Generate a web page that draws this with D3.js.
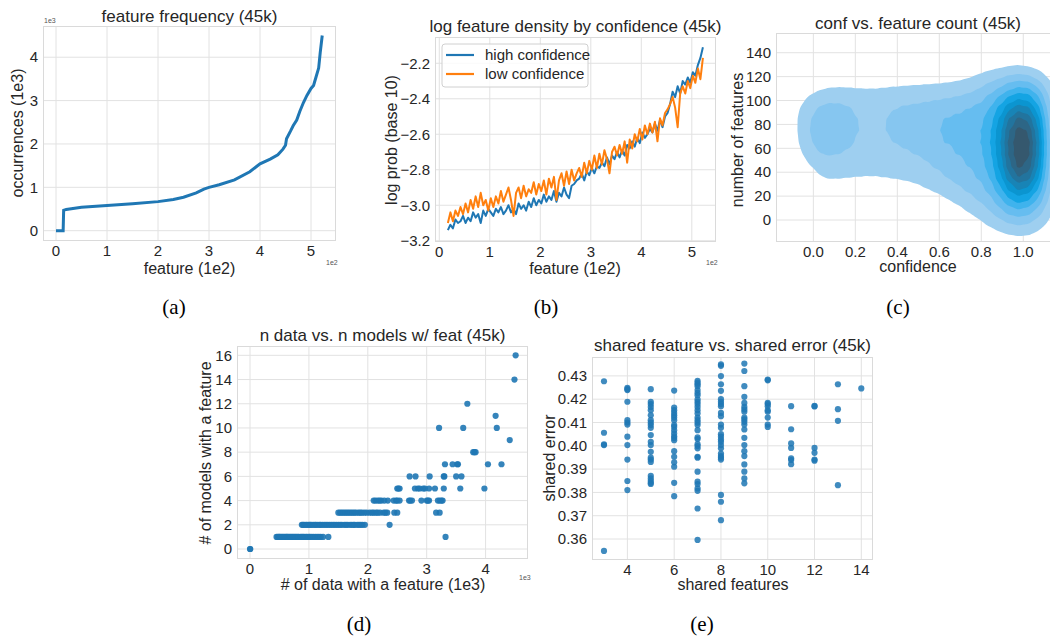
<!DOCTYPE html>
<html>
<head>
<meta charset="utf-8">
<script src="https://cdn.jsdelivr.net/npm/d3@7"></script>
<style>
  body { margin: 0; background: #fff; }
  svg text { font-family: "Liberation Sans", Arial, sans-serif; fill: #262626; }
  .cap { font-family: "Liberation Serif", "Times New Roman", serif; fill: #000; }
</style>
</head>
<body>
<div id="chart"></div>
<script>
// ---- (a) feature frequency, sorted ----
var featA = [0, 0.14, 0.15, 0.2, 0.5, 1.0, 1.5, 2.0, 2.3, 2.5, 2.75, 2.9, 3.0, 3.2, 3.5, 3.8, 4.0, 4.2,
             4.35, 4.45, 4.5, 4.52, 4.6, 4.65, 4.72, 4.78, 4.85, 4.92, 5.0, 5.05, 5.1, 5.15, 5.18, 5.22];
var occA = [0, 0, 0.47, 0.49, 0.54, 0.58, 0.62, 0.67, 0.72, 0.77, 0.87, 0.96, 1.0, 1.06, 1.17, 1.36, 1.54, 1.65,
            1.75, 1.88, 1.97, 2.12, 2.3, 2.42, 2.55, 2.75, 2.95, 3.12, 3.28, 3.35, 3.55, 3.75, 4.1, 4.5];

// ---- (b) log feature density, one value every 5 features (index 17..522) ----
var logProbHigh = [
  -3.14,-3.11,-3.13,-3.08,-3.10,-3.09,-3.06,-3.10,-3.07,-3.09,
  -3.04,-3.07,-3.05,-3.10,-3.03,-3.06,-3.02,-3.04,-3.06,-3.02,
  -3.04,-3.01,-3.05,-3.03,-3.00,-3.04,-3.02,-3.05,-2.99,-3.02,
  -3.00,-3.03,-2.98,-3.01,-2.96,-3.00,-2.97,-2.99,-2.94,-2.98,
  -2.95,-2.97,-2.92,-2.98,-2.93,-2.95,-2.90,-2.94,-2.96,-2.89,
  -2.88,-2.86,-2.85,-2.82,-2.86,-2.81,-2.83,-2.79,-2.82,-2.78,
  -2.79,-2.76,-2.78,-2.73,-2.77,-2.72,-2.74,-2.70,-2.73,-2.69,
  -2.72,-2.66,-2.68,-2.64,-2.67,-2.62,-2.65,-2.59,-2.62,-2.60,
  -2.57,-2.59,-2.54,-2.58,-2.52,-2.56,-2.50,-2.48,-2.43,-2.36,
  -2.39,-2.33,-2.37,-2.30,-2.32,-2.28,-2.31,-2.25,-2.27,-2.21,
  -2.17,-2.11];
var logProbLow = [
  -3.10,-3.04,-3.09,-3.03,-3.06,-3.01,-3.05,-2.99,-3.04,-2.97,
  -3.02,-2.95,-3.01,-2.93,-3.00,-2.97,-3.03,-2.96,-3.01,-2.95,
  -2.99,-2.92,-2.98,-2.94,-2.90,-2.97,-3.06,-2.93,-2.90,-2.96,
  -2.89,-2.95,-2.91,-2.93,-2.87,-2.94,-2.88,-2.92,-2.86,-2.94,
  -2.85,-2.90,-2.84,-2.97,-2.86,-2.82,-2.89,-2.81,-2.88,-2.80,
  -2.86,-2.82,-2.79,-2.84,-2.76,-2.82,-2.75,-2.80,-2.72,-2.79,
  -2.71,-2.77,-2.69,-2.74,-2.82,-2.70,-2.67,-2.72,-2.66,-2.71,
  -2.64,-2.76,-2.63,-2.68,-2.60,-2.64,-2.57,-2.63,-2.55,-2.60,
  -2.54,-2.59,-2.53,-2.64,-2.51,-2.55,-2.48,-2.46,-2.43,-2.39,
  -2.45,-2.56,-2.37,-2.33,-2.37,-2.30,-2.34,-2.27,-2.31,-2.23,
  -2.29,-2.17];
var featB = d3.range(17, 523, 5).map(function(d) { return d / 100; });

// ---- (c) confidence vs feature count, binned weights (one column per conf bin) ----
var kdeConf = [-0.05, 0, 0.05, 0.1, 0.15, 0.2, 0.25, 0.3, 0.35, 0.4, 0.45, 0.5,
               0.55, 0.6, 0.65, 0.7, 0.75, 0.8, 0.85, 0.9, 0.95, 1.0, 1.05, 1.1];
var kdeCount = [130, 120, 110, 100, 90, 80, 70, 60, 50, 40, 30, 20, 10, 0, -10];
var kdeWeight = [
  [0,0,0,0.4,0.8,0.9,0.8,0.6,0.25,0,0,0,0,0,0],
  [0,0,0.2,0.9,1.6,1.9,1.9,1.5,0.8,0.3,0,0,0,0,0],
  [0,0,0.4,1.4,2.1,2.3,2.3,2.0,1.3,0.8,0.3,0,0,0,0],
  [0,0,0.5,1.5,2.1,2.3,2.2,1.9,1.2,0.8,0.25,0,0,0,0],
  [0,0,0.5,1.3,1.9,2.1,2.0,1.7,1.0,0.75,0.2,0,0,0,0],
  [0,0,0.5,1.1,1.5,1.7,1.6,1.3,0.95,0.7,0.2,0,0,0,0],
  [0,0,0.5,1.0,1.1,1.2,1.1,1.0,0.9,0.65,0.2,0,0,0,0],
  [0,0,0.5,1.0,1.1,1.3,1.2,1.0,0.9,0.65,0.2,0,0,0,0],
  [0,0,0.55,1.1,1.4,1.6,1.4,1.1,0.9,0.7,0.25,0,0,0,0],
  [0,0,0.6,1.2,1.7,2.0,1.8,1.4,1.0,0.75,0.3,0,0,0,0],
  [0,0,0.65,1.3,1.9,2.2,2.0,1.6,1.1,0.8,0.4,0.05,0,0,0],
  [0,0,0.7,1.4,2.0,2.2,2.1,1.8,1.3,0.9,0.5,0.1,0,0,0],
  [0,0,0.75,1.5,2.0,2.3,2.2,2.0,1.6,1.1,0.65,0.25,0,0,0],
  [0,0,0.8,1.6,2.1,2.5,2.4,2.2,1.9,1.5,0.9,0.35,0.05,0,0],
  [0,0.1,0.9,1.7,2.4,2.9,2.8,2.4,2.1,1.8,1.4,0.6,0.15,0,0],
  [0,0.2,1.0,1.8,2.6,3.0,3.0,2.8,2.4,2.0,1.7,1.0,0.35,0,0],
  [0,0.35,1.2,2.0,2.8,3.1,3.1,3.0,2.7,2.4,1.9,1.5,0.7,0.15,0],
  [0,0.6,1.6,2.4,3.0,3.3,3.4,3.3,3.1,2.8,2.3,1.8,1.2,0.45,0],
  [0,1.0,2.2,3.0,3.8,4.3,4.5,4.5,4.2,3.8,3.4,2.4,1.7,0.9,0.2],
  [0,1.5,2.7,4.5,5.8,6.5,6.8,6.8,6.5,6.0,5.0,4.0,2.8,1.6,0.4],
  [0.2,1.8,3.5,5.5,7.5,9.0,9.8,10.0,9.6,8.8,7.0,5.3,3.5,2.0,0.6],
  [0.2,1.8,4.0,6.0,8.2,10.0,11.0,11.2,10.8,9.8,7.8,5.8,3.8,2.2,0.7],
  [0,1.5,3.4,5.0,6.8,8.0,8.8,9.0,8.6,7.8,6.2,4.5,3.0,1.6,0.5],
  [0,0.3,1.8,2.8,3.6,4.2,4.5,4.6,4.4,4.0,3.4,2.6,1.6,0.7,0.1]
];
var kdeColors = ["#9ecff0", "#86c6f0", "#66bdf0", "#3fb3ed", "#14a4e3",
                 "#0b95d0", "#1884b6", "#22749e", "#2d6686", "#35586e"];

// ---- (d) n data vs n models ----
var modelsN = [0, 1, 2, 3, 4, 5, 6, 7, 8, 9, 10, 11, 12, 14, 16];
var dataK = [
  [0.0, 0.004],
  [0.45,0.47,0.49,0.5,0.52,0.54,0.56,0.58,0.6,0.62,0.63,0.65,0.67,0.69,0.71,0.73,0.75,0.77,0.79,0.81,
   0.83,0.86,0.88,0.9,0.92,0.95,0.97,1.0,1.02,1.05,1.08,1.11,1.14,1.17,1.2,1.24,1.33,3.32],
  [0.88,0.9,0.92,0.95,0.97,1.0,1.02,1.04,1.07,1.1,1.12,1.15,1.18,1.2,1.23,1.26,1.29,1.32,1.35,1.38,
   1.41,1.44,1.47,1.5,1.53,1.56,1.6,1.63,1.66,1.7,1.73,1.76,1.78,1.82,1.85,1.88,1.91,1.95,2.37],
  [1.5,1.53,1.56,1.59,1.62,1.65,1.68,1.71,1.74,1.77,1.8,1.84,1.87,1.9,1.94,1.98,2.03,2.07,2.1,2.14,
   2.17,2.21,2.27,2.3,2.33,2.45,2.5,3.16,3.22],
  [2.1,2.13,2.17,2.2,2.23,2.28,2.34,2.44,2.48,2.5,2.54,2.7,2.72,2.75,2.91,3.0,3.02,3.04,3.19,3.22,3.25,3.27],
  [2.5,2.52,2.54,2.8,2.85,2.88,2.94,2.97,3.04,3.14,3.29,3.57,3.98],
  [2.71,2.81,3.05,3.29,3.3,3.5,3.59],
  [3.31,3.44,3.52,3.53,4.04,4.27],
  [3.79,3.81,3.83],
  [4.41],
  [3.21,3.62,4.19],
  [4.17],
  [3.69],
  [4.49],
  [4.51]
];

// ---- (e) shared features vs shared error ----
var sharedFeat = [3, 4, 5, 6, 7, 8, 9, 10, 11, 12, 13, 14];
var sharedErr = [
  [0.4277,0.4056,0.4006,0.4003,0.3549],
  [0.4249,0.4243,0.4239,0.4189,0.4110,0.4100,0.4091,0.4039,0.4003,0.3941,0.3849,0.3810],
  [0.4243,0.4189,0.4179,0.4167,0.4153,0.4131,0.4110,0.4099,0.4089,0.4077,0.4046,0.4017,0.4003,0.3974,
   0.3949,0.3941,0.3931,0.3871,0.3860,0.3850,0.3841,0.3836],
  [0.4237,0.4164,0.4153,0.4141,0.4131,0.4121,0.4110,0.4089,0.4081,0.4067,0.4053,0.4041,0.4033,0.4024,
   0.3977,0.3953,0.3929,0.3910,0.3841,0.3784],
  [0.4279,0.4271,0.4264,0.4256,0.4239,0.4227,0.4217,0.4199,0.4189,0.4179,0.4167,0.4153,0.4139,0.4121,
   0.4110,0.4099,0.4089,0.4067,0.4036,0.4029,0.4007,0.3999,0.3989,0.3953,0.3949,0.3889,0.3846,0.3836,
   0.3817,0.3807,0.3731,0.3596],
  [0.4349,0.4343,0.4299,0.4264,0.4236,0.4200,0.4189,0.4179,0.4170,0.4141,0.4127,0.4091,0.4077,0.4050,
   0.4039,0.4027,0.4017,0.4003,0.3989,0.3967,0.3956,0.3949,0.3941,0.3789,0.3760,0.3681],
  [0.4353,0.4321,0.4256,0.4210,0.4184,0.4167,0.4156,0.4146,0.4121,0.4113,0.4103,0.4091,0.4070,0.4034,
   0.4003,0.3977,0.3956,0.3920,0.3889,0.3860,0.3839],
  [0.4284,0.4281,0.4184,0.4179,0.4170,0.4153,0.4146,0.4121,0.4091,0.4081],
  [0.4170,0.4071,0.4010,0.3991,0.3946,0.3939,0.3921],
  [0.4171,0.4169,0.3991,0.3970,0.3941,0.3936],
  [0.4264,0.4157,0.4107,0.3831],
  [0.4246]
];

var blue = "#1f77b4", orange = "#ff7f0e";
var gridColor = "#e2e2e2";

var svg = d3.select("#chart").append("svg")
    .attr("width", 1050)
    .attr("height", 641);

// draws grid and tick labels, hands back the scales
function makeAxes(box, xDom, yDom, xTicks, yTicks, xFmt, yFmt, tickSize) {
    var x = d3.scaleLinear().domain(xDom).range([box.l, box.r]);
    var y = d3.scaleLinear().domain(yDom).range([box.b, box.t]);
    var g = svg.append("g");

    g.selectAll(".gx").data(xTicks).enter().append("line")
        .attr("x1", function(d) { return x(d); }).attr("x2", function(d) { return x(d); })
        .attr("y1", box.t).attr("y2", box.b)
        .attr("stroke", gridColor).attr("stroke-width", 1);
    g.selectAll(".gy").data(yTicks).enter().append("line")
        .attr("x1", box.l).attr("x2", box.r)
        .attr("y1", function(d) { return y(d); }).attr("y2", function(d) { return y(d); })
        .attr("stroke", gridColor).attr("stroke-width", 1);

    g.selectAll(".tx").data(xTicks).enter().append("text")
        .attr("x", function(d) { return x(d); })
        .attr("y", box.b + 15)
        .attr("text-anchor", "middle")
        .style("font-size", tickSize + "px")
        .text(xFmt);
    g.selectAll(".ty").data(yTicks).enter().append("text")
        .attr("x", box.l - 5)
        .attr("y", function(d) { return y(d); })
        .attr("dy", "0.35em")
        .attr("text-anchor", "end")
        .style("font-size", tickSize + "px")
        .text(yFmt);

    return { x: x, y: y, g: g, box: box };
}

function frame(ax) {
    var b = ax.box;
    svg.append("rect")
        .attr("x", b.l + 0.5).attr("y", b.t + 0.5)
        .attr("width", b.r - b.l - 1).attr("height", b.b - b.t - 1)
        .attr("fill", "none").attr("stroke", "#dadada").attr("stroke-width", 1);
}

function labels(title, tx, ty, xl, xlx, xly, yl, ylx, yly) {
    svg.append("text").attr("x", tx).attr("y", ty).attr("text-anchor", "middle")
        .style("font-size", "17px").text(title);
    svg.append("text").attr("x", xlx).attr("y", xly).attr("text-anchor", "middle")
        .style("font-size", "16px").text(xl);
    svg.append("text")
        .attr("transform", "translate(" + ylx + "," + yly + ") rotate(-90)")
        .attr("dy", "0.35em")
        .attr("text-anchor", "middle")
        .style("font-size", "16px").text(yl);
}

function small(txt, x, y) {
    svg.append("text").attr("x", x).attr("y", y)
        .style("font-size", "7px").style("fill", "#555").text(txt);
}

var intFmt = d3.format("d");
var minusFmt = function(d) { return d3.format(".1f")(d).replace("-", "\u2212"); };

// ================= (a) =================
var axA = makeAxes({ l: 43, r: 336, t: 26, b: 241 }, [-0.255, 5.49], [-0.238, 4.72],
                   [0, 1, 2, 3, 4, 5], [0, 1, 2, 3, 4], intFmt, intFmt, 15);
var lineA = d3.line()
    .x(function(d, i) { return axA.x(featA[i]); })
    .y(function(d) { return axA.y(d); });
svg.append("path").datum(occA)
    .attr("d", lineA)
    .attr("fill", "none").attr("stroke", blue).attr("stroke-width", 3);
frame(axA);
labels("feature frequency (45k)", 189.5, 22, "feature (1e2)", 189.5, 274, "occurrences (1e3)", 17, 133);
small("1e3", 44, 23);
small("1e2", 326, 265);

// ================= (b) =================
var axB = makeAxes({ l: 435, r: 716, t: 37, b: 242 }, [-0.085, 5.479], [-3.207, -2.052],
                   [0, 1, 2, 3, 4, 5], [-3.2, -3.0, -2.8, -2.6, -2.4, -2.2], intFmt, minusFmt, 15);
var lineB = d3.line()
    .x(function(d, i) { return axB.x(featB[i]); })
    .y(function(d) { return axB.y(d); });
svg.append("path").datum(logProbHigh)
    .attr("d", lineB)
    .attr("fill", "none").attr("stroke", blue).attr("stroke-width", 2)
    .attr("stroke-linejoin", "round");
svg.append("path").datum(logProbLow)
    .attr("d", lineB)
    .attr("fill", "none").attr("stroke", orange).attr("stroke-width", 2)
    .attr("stroke-linejoin", "round");
frame(axB);
labels("log feature density by confidence (45k)", 575.5, 32, "feature (1e2)", 575, 274,
       "log prob (base 10)", 391.5, 140);
small("1e2", 706, 265);

// legend
var leg = svg.append("g");
leg.append("rect").attr("x", 442).attr("y", 44).attr("width", 146).attr("height", 43)
    .attr("rx", 3).attr("fill", "#fff").attr("fill-opacity", 0.8)
    .attr("stroke", "#d0d0d0");
[["high confidence", blue], ["low confidence", orange]].forEach(function(s, i) {
    var yy = 55 + i * 19;
    leg.append("line").attr("x1", 446).attr("x2", 474).attr("y1", yy).attr("y2", yy)
        .attr("stroke", s[1]).attr("stroke-width", 2.2);
    leg.append("text").attr("x", 485).attr("y", yy).attr("dy", "0.35em")
        .style("font-size", "15px").text(s[0]);
});

// ================= (c) =================
var boxC = { l: 776, r: 1060, t: 33, b: 242 };
var axC = makeAxes(boxC, [-0.178, 1.175], [-18.4, 156.5],
                   [0, 0.2, 0.4, 0.6, 0.8, 1.0], [0, 20, 40, 60, 80, 100, 120, 140],
                   d3.format(".1f"), intFmt, 15);
svg.append("clipPath").attr("id", "clipC").append("rect")
    .attr("x", boxC.l).attr("y", boxC.t)
    .attr("width", boxC.r - boxC.l).attr("height", boxC.b - boxC.t);

var cells = [];
kdeConf.forEach(function(c, i) {
    kdeCount.forEach(function(n, j) {
        cells.push({ c: c, n: n, w: kdeWeight[i][j] });
    });
});
// one weight unit spread over one bin gives density 1 / (bin area)
var cellW = axC.x(0.05) - axC.x(0);
var cellH = axC.y(0) - axC.y(10);
var thr = kdeColors.map(function(d, k) { return (k + 0.5) / (cellW * cellH); });
var density = d3.contourDensity()
    .x(function(d) { return axC.x(d.c) - boxC.l; })
    .y(function(d) { return axC.y(d.n) - boxC.t; })
    .weight(function(d) { return d.w; })
    .size([boxC.r - boxC.l, boxC.b - boxC.t])
    .cellSize(2)
    .bandwidth(7)
    .thresholds(thr);
var bands = density(cells);
svg.append("g")
    .attr("clip-path", "url(#clipC)")
    .append("g")
    .attr("transform", "translate(" + boxC.l + "," + boxC.t + ")")
    .selectAll("path").data(bands).enter().append("path")
    .attr("d", d3.geoPath())
    .attr("fill", function(d, i) { return kdeColors[i]; });
frame(axC);
labels("conf vs. feature count (45k)", 918, 29, "confidence", 918, 272, "number of features", 737.5, 140);

// ================= (d) =================
var axD = makeAxes({ l: 237, r: 528, t: 346, b: 559 }, [-0.221, 4.72], [-0.825, 16.77],
                   [0, 1, 2, 3, 4], [0, 2, 4, 6, 8, 10, 12, 14, 16], intFmt, intFmt, 15);
var ptsD = [];
modelsN.forEach(function(m, i) {
    dataK[i].forEach(function(v) { ptsD.push([v, m]); });
});
svg.append("g").selectAll("circle").data(ptsD).enter().append("circle")
    .attr("cx", function(d) { return axD.x(d[0]); })
    .attr("cy", function(d) { return axD.y(d[1]); })
    .attr("r", 3.1)
    .attr("fill", blue).attr("fill-opacity", 0.9);
frame(axD);
labels("n data vs. n models w/ feat (45k)", 382.5, 341, "# of data with a feature (1e3)", 383, 590,
       "# of models with a feature", 205, 453);
small("1e3", 519, 580);

// ================= (e) =================
var axE = makeAxes({ l: 592, r: 873, t: 357, b: 560 }, [2.487, 14.5], [0.351, 0.4381],
                   [4, 6, 8, 10, 12, 14], [0.36, 0.37, 0.38, 0.39, 0.40, 0.41, 0.42, 0.43],
                   intFmt, d3.format(".2f"), 15);
var ptsE = [];
sharedFeat.forEach(function(f, i) {
    sharedErr[i].forEach(function(v) { ptsE.push([f, v]); });
});
svg.append("g").selectAll("circle").data(ptsE).enter().append("circle")
    .attr("cx", function(d) { return axE.x(d[0]); })
    .attr("cy", function(d) { return axE.y(d[1]); })
    .attr("r", 3.1)
    .attr("fill", blue).attr("fill-opacity", 0.85);
frame(axE);
labels("shared feature vs. shared error (45k)", 732.5, 351, "shared features", 733, 590,
       "shared error", 549, 458);

// ---- sub-figure captions ----
[["(a)", 174, 314], ["(b)", 546, 314], ["(c)", 898, 314], ["(d)", 359, 631], ["(e)", 702, 631]]
    .forEach(function(c) {
        svg.append("text").attr("class", "cap")
            .attr("x", c[1]).attr("y", c[2])
            .attr("text-anchor", "middle")
            .style("font-size", "21px").text(c[0]);
    });
</script>
</body>
</html>
